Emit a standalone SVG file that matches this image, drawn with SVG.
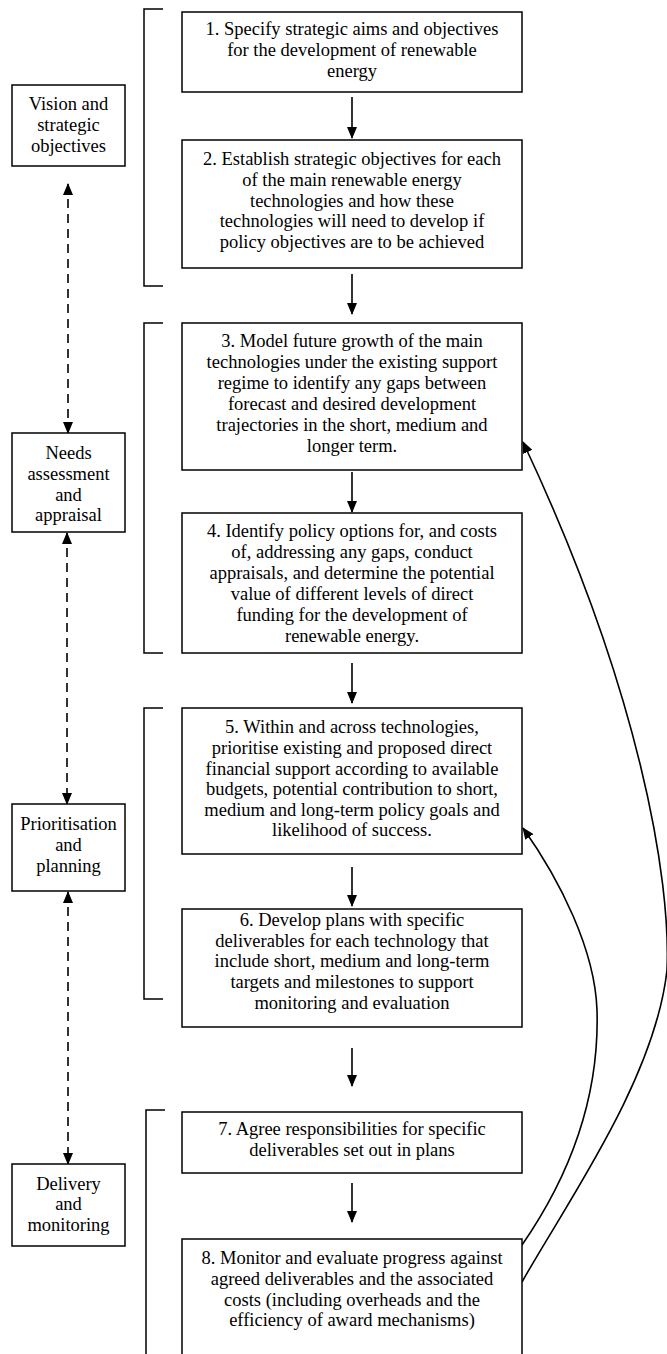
<svg xmlns="http://www.w3.org/2000/svg" width="667" height="1354" viewBox="0 0 667 1354">
<style>
.box{fill:#fff;stroke:#000;stroke-width:1.5}
.t{font-family:"Liberation Serif","Times New Roman",serif;font-size:18.5px;fill:#000;text-anchor:middle}
.br{fill:none;stroke:#000;stroke-width:1.5}
.arr{fill:none;stroke:#000;stroke-width:1.6;marker-end:url(#ah)}
.dash{fill:none;stroke:#000;stroke-width:1.6;stroke-dasharray:9,6;marker-end:url(#ah);marker-start:url(#ahs)}
.cur{fill:none;stroke:#000;stroke-width:1.6}
</style>
<defs>
<marker id="ah" viewBox="0 0 12 10" refX="11" refY="5" markerWidth="12" markerHeight="10" markerUnits="userSpaceOnUse" orient="auto"><path d="M0,0 L12,5 L0,10 z" fill="#000"/></marker>
<marker id="ahs" viewBox="0 0 12 10" refX="11" refY="5" markerWidth="12" markerHeight="10" markerUnits="userSpaceOnUse" orient="auto-start-reverse"><path d="M0,0 L12,5 L0,10 z" fill="#000"/></marker>
<marker id="ahc" viewBox="0 0 12 10" refX="11" refY="5" markerWidth="12" markerHeight="10" markerUnits="userSpaceOnUse" orient="auto"><path d="M0,0 L12,5 L0,10 z" fill="#000"/></marker>
</defs>

<g id="brackets">
<path class="br" d="M163,9 H144 V286 H163"/>
<path class="br" d="M163,323 H144 V653 H163"/>
<path class="br" d="M163,708 H144 V999 H163"/>
<path class="br" d="M165,1110 H146 V1360"/>
</g>

<g id="connectors">
<line class="arr" x1="352" y1="97" x2="352" y2="138"/>
<line class="arr" x1="352" y1="274" x2="352" y2="314"/>
<line class="arr" x1="352" y1="472" x2="352" y2="512"/>
<line class="arr" x1="352" y1="663" x2="352" y2="703"/>
<line class="arr" x1="352" y1="867" x2="352" y2="906"/>
<line class="arr" x1="352" y1="1048" x2="352" y2="1086"/>
<line class="arr" x1="352" y1="1183" x2="352" y2="1222"/>
<line class="dash" x1="68" y1="184" x2="68" y2="433"/>
<line class="dash" x1="67" y1="533" x2="67" y2="804"/>
<line class="dash" x1="68" y1="892" x2="68" y2="1164"/>
<path class="cur" marker-end="url(#ahc)" d="M522,1245 C560,1190 600,1110 597,1010 C595,950 560,880 523,828"/>
<path class="cur" marker-end="url(#ahc)" d="M522,1282 C565,1205 655,1080 667,970 C671,880 640,690 523,442"/>
</g>

<g id="n1">
<rect class="box" x="182" y="12" width="340" height="80"/>
<text class="t" x="352" y="35">1. Specify strategic aims and objectives</text>
<text class="t" x="352" y="56">for the development of renewable</text>
<text class="t" x="352" y="77">energy</text>
</g>
<g id="n2">
<rect class="box" x="182" y="140" width="340" height="128"/>
<text class="t" x="352" y="165">2. Establish strategic objectives for each</text>
<text class="t" x="352" y="186">of the main renewable energy</text>
<text class="t" x="352" y="206.5">technologies and how these</text>
<text class="t" x="352" y="227">technologies will need to develop if</text>
<text class="t" x="352" y="248">policy objectives are to be achieved</text>
</g>
<g id="n3">
<rect class="box" x="182" y="323" width="340" height="147"/>
<text class="t" x="352" y="347">3. Model future growth of the main</text>
<text class="t" x="352" y="368">technologies under the existing support</text>
<text class="t" x="352" y="389">regime to identify any gaps between</text>
<text class="t" x="352" y="409.5">forecast and desired development</text>
<text class="t" x="352" y="430.5">trajectories in the short, medium and</text>
<text class="t" x="352" y="451.5">longer term.</text>
</g>
<g id="n4">
<rect class="box" x="182" y="513" width="340" height="140"/>
<text class="t" x="352" y="537">4. Identify policy options for, and costs</text>
<text class="t" x="352" y="558">of, addressing any gaps, conduct</text>
<text class="t" x="352" y="579">appraisals, and determine the potential</text>
<text class="t" x="352" y="600">value of different levels of direct</text>
<text class="t" x="352" y="620.5">funding for the development of</text>
<text class="t" x="352" y="641.5">renewable energy.</text>
</g>
<g id="n5">
<rect class="box" x="182" y="708" width="340" height="146"/>
<text class="t" x="352" y="733">5. Within and across technologies,</text>
<text class="t" x="352" y="754">prioritise existing and proposed direct</text>
<text class="t" x="352" y="774.5">financial support according to available</text>
<text class="t" x="352" y="795">budgets, potential contribution to short,</text>
<text class="t" x="352" y="815.5">medium and long-term policy goals and</text>
<text class="t" x="352" y="836">likelihood of success.</text>
</g>
<g id="n6">
<rect class="box" x="182" y="909" width="340" height="118"/>
<text class="t" x="352" y="925.5">6. Develop plans with specific</text>
<text class="t" x="352" y="946.5">deliverables for each technology that</text>
<text class="t" x="352" y="967">include short, medium and long-term</text>
<text class="t" x="352" y="988">targets and milestones to support</text>
<text class="t" x="352" y="1009">monitoring and evaluation</text>
</g>
<g id="n7">
<rect class="box" x="182" y="1112" width="340" height="61"/>
<text class="t" x="352" y="1135">7. Agree responsibilities for specific</text>
<text class="t" x="352" y="1156">deliverables set out in plans</text>
</g>
<g id="n8">
<rect class="box" x="182" y="1239" width="340" height="130"/>
<text class="t" x="352" y="1264">8. Monitor and evaluate progress against</text>
<text class="t" x="352" y="1285">agreed deliverables and the associated</text>
<text class="t" x="352" y="1305.5">costs (including overheads and the</text>
<text class="t" x="352" y="1326">efficiency of award mechanisms)</text>
</g>

<g id="s1">
<rect class="box" x="12" y="85" width="113" height="81"/>
<text class="t" x="68.5" y="110">Vision and</text>
<text class="t" x="68.5" y="131">strategic</text>
<text class="t" x="68.5" y="152">objectives</text>
</g>
<g id="s2">
<rect class="box" x="12" y="433" width="113" height="99"/>
<text class="t" x="68.5" y="459">Needs</text>
<text class="t" x="68.5" y="480">assessment</text>
<text class="t" x="68.5" y="500.5">and</text>
<text class="t" x="68.5" y="521">appraisal</text>
</g>
<g id="s3">
<rect class="box" x="12" y="804" width="113" height="87"/>
<text class="t" x="68.5" y="830">Prioritisation</text>
<text class="t" x="68.5" y="851">and</text>
<text class="t" x="68.5" y="871.5">planning</text>
</g>
<g id="s4">
<rect class="box" x="12" y="1164" width="113" height="82"/>
<text class="t" x="68.5" y="1189.5">Delivery</text>
<text class="t" x="68.5" y="1210">and</text>
<text class="t" x="68.5" y="1230.5">monitoring</text>
</g>
</svg>
